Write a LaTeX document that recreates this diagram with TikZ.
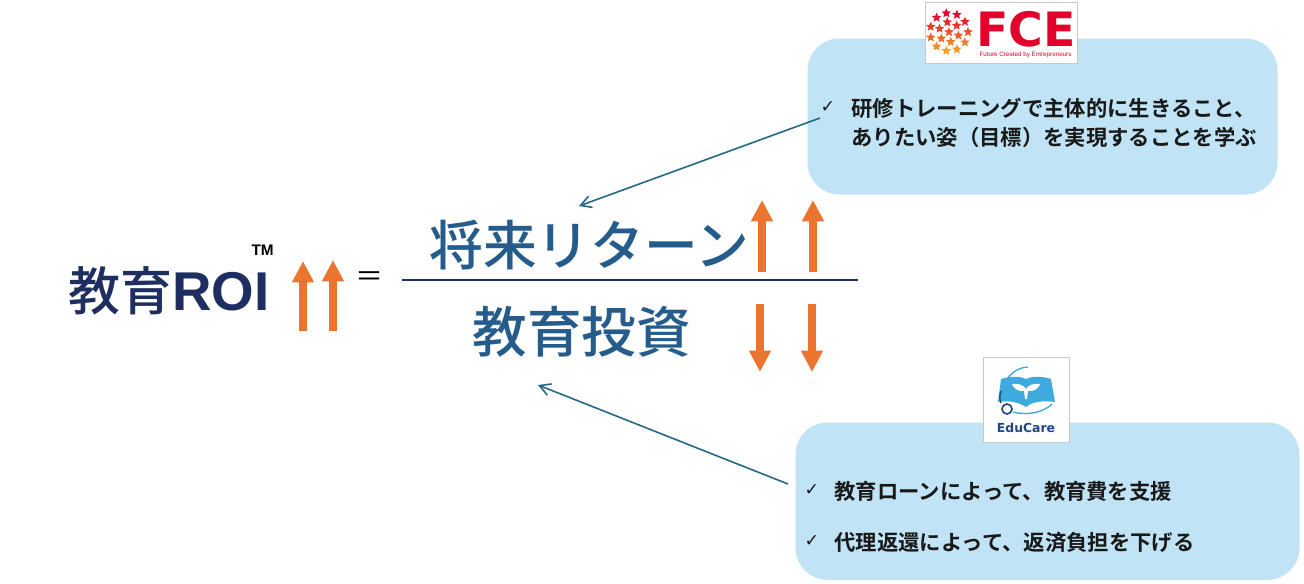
\documentclass[tikz,border=0pt]{standalone}
\usepackage{fontspec}
\setmainfont{Liberation Sans}
\newfontfamily\cjk[BoldFont={Noto Sans CJK JP Medium}]{Noto Sans CJK JP}
\newfontfamily\cjkbold[BoldFont={Noto Sans CJK JP Bold}]{Noto Sans CJK JP}
\newfontfamily\symb{DejaVu Sans}
\usetikzlibrary{arrows.meta,shapes.geometric}
\definecolor{navy}{RGB}{31,46,96}
\definecolor{blueText}{RGB}{38,92,140}
\definecolor{boxBlue}{RGB}{192,228,245}
\definecolor{arrowOrange}{RGB}{235,117,47}
\definecolor{lineBlue}{RGB}{36,104,134}
\definecolor{fceRed}{RGB}{226,0,44}
\definecolor{fceOrange}{RGB}{245,160,40}
\definecolor{eduBlue}{RGB}{62,170,222}
\definecolor{eduNavy}{RGB}{30,70,130}
\tikzset{every picture/.style={line width=0.75pt},
  infobox/.style={fill=boxBlue,rounded corners=24pt,inner sep=0pt,anchor=north west},
  boxtext/.style={anchor=west,inner sep=0pt,font=\cjkbold\bfseries\fontsize{16}{19}\selectfont,text=black!90},
  checkmark/.style={anchor=west,inner sep=0pt,font=\symb\fontsize{13}{13}\selectfont,text=black!90},
  bigarrow/.style={arrowOrange,line width=6pt,-{Triangle[length=16pt,width=15.5pt]}},
  pointer/.style={lineBlue,line width=1.2pt,-{Straight Barb[length=8pt,width=9pt]}},
  logobox/.style={fill=white,draw=black!22,line width=0.8pt,inner sep=0pt,anchor=north west},
  fracword/.style={inner sep=0pt,text=blueText,font=\cjk\bfseries\fontsize{40.3}{44}\selectfont}}

\begin{document}
\begin{tikzpicture}[x=0.75pt,y=0.75pt,yscale=-1,xscale=1]
	\useasboundingbox (0,0) rectangle (1304,583);
	
	% Text Node
	\node (roi) [anchor=west,inner sep=0pt,text=navy,font=\bfseries\fontsize{39}{40}\selectfont] at (68,291) {{\cjk 教育}{\fontsize{41}{40}\selectfont ROI}};
	% Text Node
	\node (tm) [anchor=west,inner sep=0pt,text=black,font=\bfseries\fontsize{11.5}{12}\selectfont] at (251,250) {TM};
	% Text Node
	\node (equal) [anchor=center,inner sep=0pt,text=black,font=\cjk\fontsize{21}{21}\selectfont] at (369,279) {＝};
	
	% Text Node
	\node (returns) [fracword,anchor=west] at (429,245) {将来リターン};
	% Text Node
	\node (invest) [fracword,anchor=west,font=\cjk\bfseries\fontsize{41}{44}\selectfont] at (472,332) {教育投資};
	\coordinate (barL) at (402,280);
	\coordinate (barR) at (858,280);
	\draw [navy,line width=1.1pt] (barL) -- (barR);
	
	%Up and down arrows
	\foreach \ax/\ay/\bx/\by in {303/331/303/261, 333/331/333/260, 762/272/762/200, 813/272/813/200, 760/304/760/372, 812/304/812/372}
		\draw [bigarrow] (\ax,\ay) -- (\bx,\by);
	
	%Upper box
	\node (fcebox) [infobox,minimum width=352.5pt,minimum height=117pt] at (807,38) {};
	\node (fcecheck) [checkmark] at (820,107) {✓};
	\node (fceline1) [boxtext] at (851,108) {研修トレーニングで主体的に生きること、};
	\node (fceline2) [boxtext] at (851,137) {ありたい姿（目標）を実現することを学ぶ};
	
	%Lower box
	\node (edubox) [infobox,minimum width=378pt,minimum height=118pt] at (795,422) {};
	\node (educheck1) [checkmark] at (804,490) {✓};
	\node (eduline1) [boxtext] at (834,491) {教育ローンによって、教育費を支援};
	\node (educheck2) [checkmark] at (804,541) {✓};
	\node (eduline2) [boxtext] at (834,542) {代理返還によって、返済負担を下げる};
	
	%FCE logo
	\node (fcelogo) [logobox,minimum width=114pt,minimum height=45.5pt] at (925,2) {};
	\foreach \r/\n/\o in {0/1/0, 10/6/20, 19/11/0}
		\foreach \i in {1,...,\n} {
			\pgfmathsetmacro{\starmix}{int(100-100*(\r*sin(\o+\i*360/\n)+19)/38)}
			\path ({949+\r*cos(\o+\i*360/\n)},{32+\r*sin(\o+\i*360/\n)}) node [star,star points=5,star point ratio=2.2,inner sep=0pt,minimum size=7.5pt,fill=fceRed!\starmix!fceOrange] {};
		}
	\node (fceword) [anchor=west,inner sep=0pt,text=fceRed,font=\symb\bfseries\fontsize{35.5}{36}\selectfont] at (976,29) {FCE};
	\node (fcetag) [anchor=west,inner sep=0pt,text=fceRed,font=\fontsize{4.7}{5}\selectfont] at (979,55) {Future Created by Entrepreneurs};
	
	%EduCare logo
	\node (edulogo) [logobox,minimum width=64.5pt,minimum height=64pt] at (983,357) {};
	\fill [eduBlue] (1001,379) .. controls (1011,376) and (1020,376) .. (1026,379) .. controls (1032,376) and (1042,376) .. (1051,379) -- (1055,402) .. controls (1042,400) and (1032,402) .. (1026,407) .. controls (1018,402) and (1008,400) .. (998,402) -- cycle;
	\fill [white] (1025,399) -- (1024,391) .. controls (1018,392) and (1013,388) .. (1012,384) .. controls (1018,383) and (1024,385) .. (1026,389) .. controls (1028,385) and (1034,383) .. (1040,384) .. controls (1039,388) and (1034,392) .. (1028,391) -- (1027,399) -- cycle;
	\draw [eduBlue,line width=1pt] (1000,396) .. controls (1004,380) and (1012,368) .. (1028,367);
	\draw [eduNavy,line width=1pt] (1001,403) .. controls (999,398) and (1000,394) .. (1001,391);
	\draw [eduNavy,line width=1.2pt] (1007,409) circle (5);
	\draw [eduBlue,line width=1pt] (1013,412) .. controls (1028,416) and (1044,412) .. (1052,404);
	\node (eduword) [anchor=center,inner sep=0pt,text=eduNavy,font=\symb\bfseries\fontsize{9.3}{11}\selectfont] at (1026,428) {EduCare};
	
	%Pointers
	\coordinate (fceedge) at (820,118);
	\coordinate (returnsend) at (579,206);
	\coordinate (eduedge) at (788,484);
	\coordinate (investend) at (538,385);
	\draw [pointer] (fceedge) -- (returnsend);
	\draw [pointer] (eduedge) -- (investend);
	
\end{tikzpicture}
\end{document}
